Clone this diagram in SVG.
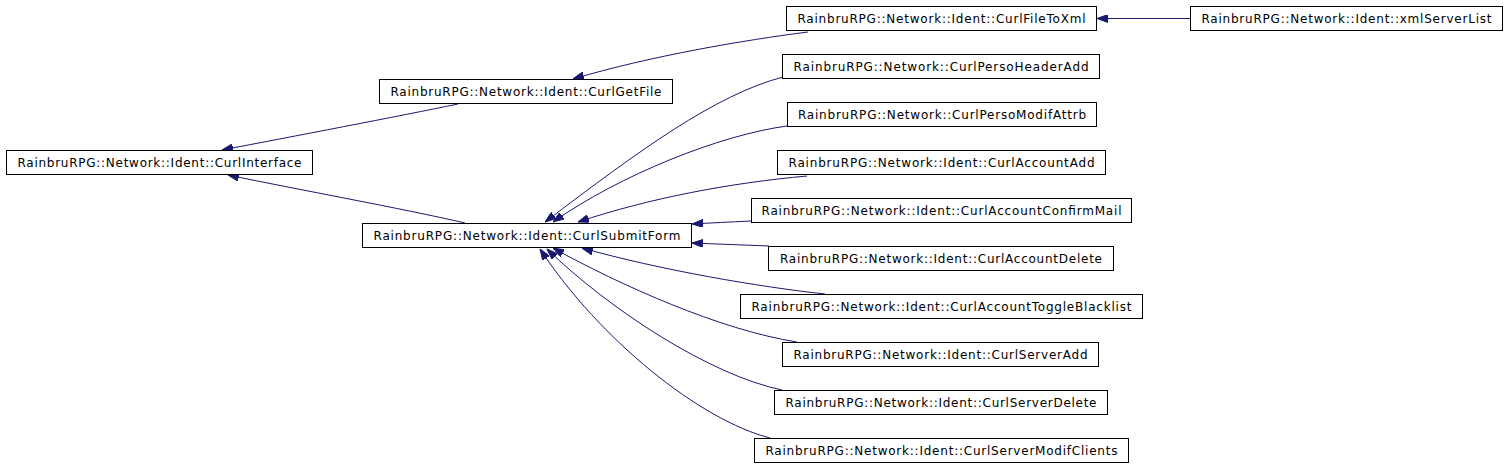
<svg xmlns="http://www.w3.org/2000/svg" width="1507" height="467" viewBox="0 0 1507 467">
<style>
.node rect{fill:#fff;stroke:#000;stroke-width:1}
.node text{font-family:"DejaVu Sans",sans-serif;font-size:12px;fill:#000;text-anchor:middle}
.edges path{fill:none;stroke:#191970;stroke-width:1;marker-end:url(#ah)}
</style>
<defs>
<marker id="ah" viewBox="0 0 11 8" refX="11" refY="4" markerWidth="11" markerHeight="8" markerUnits="userSpaceOnUse" orient="auto">
<path d="M0,0 L11,4 L0,8 z" fill="#191970" stroke="#191970"/>
</marker>
</defs>
<rect width="1507" height="467" fill="#fff"/>
<g class="edges">
<path d="M1190,18.5 L1097,18.5"/>
<path d="M808,32 C745,40 650,56 573,79"/>
<path d="M458,104 C400,116 290,137 222,150"/>
<path d="M465,223 C400,208 300,190 228,175"/>
<path d="M783,77 C715,95 640,150 545,222"/>
<path d="M787,126 C720,135 620,175 553,222"/>
<path d="M807,176 C730,183 650,198 578,222"/>
<path d="M751,221 C730,222 710,223 692,224"/>
<path d="M769,246 C745,245 715,244 692,243"/>
<path d="M825,294 C760,287 660,270 582,248"/>
<path d="M797,342 C720,330 620,285 553,248"/>
<path d="M782,390 C710,375 610,310 547,249"/>
<path d="M770,438 C700,420 600,340 540,249"/>
</g>
<g id="CurlInterface" class="node"><rect x="6.5" y="150.5" width="306" height="24"/><text x="159.5" y="167" textLength="284" lengthAdjust="spacing">RainbruRPG::Network::Ident::CurlInterface</text></g>
<g id="CurlGetFile" class="node"><rect x="379.5" y="79.5" width="293" height="24"/><text x="526" y="96" textLength="271" lengthAdjust="spacing">RainbruRPG::Network::Ident::CurlGetFile</text></g>
<g id="CurlSubmitForm" class="node"><rect x="362.5" y="223.5" width="329" height="24"/><text x="527" y="240" textLength="307" lengthAdjust="spacing">RainbruRPG::Network::Ident::CurlSubmitForm</text></g>
<g id="CurlFileToXml" class="node"><rect x="786.5" y="6.5" width="310" height="24"/><text x="941.5" y="23" textLength="288" lengthAdjust="spacing">RainbruRPG::Network::Ident::CurlFileToXml</text></g>
<g id="xmlServerList" class="node"><rect x="1190.5" y="6.5" width="312" height="24"/><text x="1346.5" y="23" textLength="290" lengthAdjust="spacing">RainbruRPG::Network::Ident::xmlServerList</text></g>
<g id="CurlPersoHeaderAdd" class="node"><rect x="782.5" y="54.5" width="317" height="24"/><text x="941" y="71" textLength="295" lengthAdjust="spacing">RainbruRPG::Network::CurlPersoHeaderAdd</text></g>
<g id="CurlPersoModifAttrb" class="node"><rect x="787.5" y="102.5" width="309" height="24"/><text x="942" y="119" textLength="288" lengthAdjust="spacing">RainbruRPG::Network::CurlPersoModifAttrb</text></g>
<g id="CurlAccountAdd" class="node"><rect x="777.5" y="150.5" width="328" height="24"/><text x="941.5" y="167" textLength="306" lengthAdjust="spacing">RainbruRPG::Network::Ident::CurlAccountAdd</text></g>
<g id="CurlAccountConfirmMail" class="node"><rect x="751.5" y="198.5" width="380" height="24"/><text x="941.5" y="215" textLength="360" lengthAdjust="spacing">RainbruRPG::Network::Ident::CurlAccountConfirmMail</text></g>
<g id="CurlAccountDelete" class="node"><rect x="768.5" y="246.5" width="345" height="24"/><text x="941" y="263" textLength="322" lengthAdjust="spacing">RainbruRPG::Network::Ident::CurlAccountDelete</text></g>
<g id="CurlAccountToggleBlacklist" class="node"><rect x="740.5" y="294.5" width="402" height="24"/><text x="941.5" y="311" textLength="380" lengthAdjust="spacing">RainbruRPG::Network::Ident::CurlAccountToggleBlacklist</text></g>
<g id="CurlServerAdd" class="node"><rect x="782.5" y="342.5" width="316" height="24"/><text x="940.5" y="359" textLength="294" lengthAdjust="spacing">RainbruRPG::Network::Ident::CurlServerAdd</text></g>
<g id="CurlServerDelete" class="node"><rect x="774.5" y="390.5" width="333" height="24"/><text x="941" y="407" textLength="311" lengthAdjust="spacing">RainbruRPG::Network::Ident::CurlServerDelete</text></g>
<g id="CurlServerModifClients" class="node"><rect x="754.5" y="438.5" width="374" height="24"/><text x="941.5" y="455" textLength="352" lengthAdjust="spacing">RainbruRPG::Network::Ident::CurlServerModifClients</text></g>
</svg>
